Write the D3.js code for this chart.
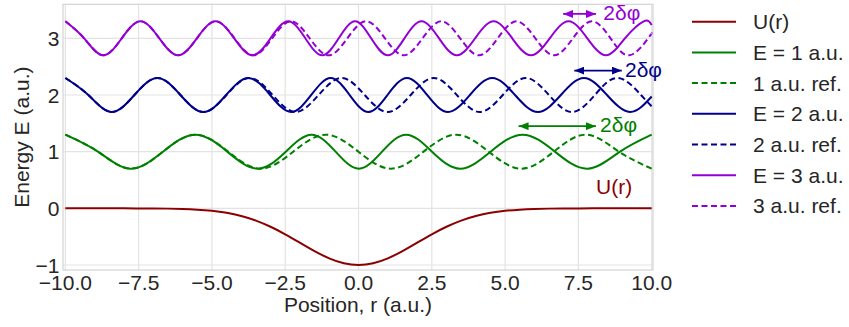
<!DOCTYPE html>
<html>
<head>
<meta charset="utf-8">
<script src="https://cdn.jsdelivr.net/npm/d3@7"></script>
<style>
  body { margin: 0; background: #fff; }
  svg { font-family: "Liberation Sans", Arial, sans-serif; }
</style>
</head>
<body>
<div id="chart"></div>
<script>
// potential well U(r), sampled every 0.5 a.u.
const potR = [-10, -9.5, -9, -8.5, -8, -7.5, -7, -6.5, -6, -5.5, -5, -4.5, -4, -3.5, -3, -2.5, -2, -1.5, -1, -0.5,
              0, 0.5, 1, 1.5, 2, 2.5, 3, 3.5, 4, 4.5, 5, 5.5, 6, 6.5, 7, 7.5, 8, 8.5, 9, 9.5, 10];
const potU = [0, 0, 0, -0.0001, -0.0003, -0.0009, -0.0022, -0.0051, -0.0111, -0.0228, -0.0439, -0.0796, -0.1353,
              -0.2163, -0.3247, -0.4578, -0.6065, -0.7548, -0.8825, -0.9692, -1, -0.9692, -0.8825, -0.7548, -0.6065,
              -0.4578, -0.3247, -0.2163, -0.1353, -0.0796, -0.0439, -0.0228, -0.0111, -0.0051, -0.0022, -0.0009,
              -0.0003, -0.0001, 0, 0, 0];

// E = 1 : wave (peaks, crossings, troughs) and free reference
const e1R = [-10, -8.889, -7.779, -6.669, -5.564, -4.477, -3.442, -2.481, -1.602, -0.781, 0.011, 0.803, 1.625,
             2.507, 3.469, 4.508, 5.595, 6.700, 7.810, 8.920, 10];
const e1V = [1.3, 1.0, 0.7, 1.0, 1.3, 1.0, 0.7, 1.0, 1.3, 1.0, 0.7, 1.0, 1.3, 1.0, 0.7, 1.0, 1.3, 1.0, 0.7, 1.0, 1.3];
const e1RefR = [-10, -8.889, -7.779, -6.668, -5.557, -4.446, -3.336, -2.225, -1.114, -0.004, 1.107, 2.218, 3.329,
                4.439, 5.550, 6.661, 7.771, 8.882, 10];
const e1RefV = [1.3, 1.0, 0.7, 1.0, 1.3, 1.0, 0.7, 1.0, 1.3, 1.0, 0.7, 1.0, 1.3, 1.0, 0.7, 1.0, 1.3, 1.0, 0.7];

// E = 2
const e2R = [-10, -9.215, -8.429, -7.644, -6.858, -6.075, -5.293, -4.517, -3.756, -3.014, -2.299, -1.612, -0.950,
             -0.303, 0.340, 0.988, 1.652, 2.339, 3.056, 3.799, 4.562, 5.338, 6.120, 6.904, 7.689, 8.475, 9.260, 10];
const e2V = [2.3, 2.0, 1.7, 2.0, 2.3, 2.0, 1.7, 2.0, 2.3, 2.0, 1.7, 2.0, 2.3, 2.0, 1.7, 2.0, 2.3, 2.0, 1.7, 2.0,
             2.3, 2.0, 1.7, 2.0, 2.3, 2.0, 1.7, 1.973];
const e2RefR = [-10, -9.215, -8.429, -7.644, -6.858, -6.073, -5.288, -4.502, -3.717, -2.931, -2.146, -1.361, -0.575,
                0.210, 0.996, 1.781, 2.566, 3.352, 4.137, 4.923, 5.708, 6.493, 7.279, 8.064, 8.850, 9.635, 10];
const e2RefV = [2.3, 2.0, 1.7, 2.0, 2.3, 2.0, 1.7, 2.0, 2.3, 2.0, 1.7, 2.0, 2.3, 2.0, 1.7, 2.0, 2.3, 2.0, 1.7, 2.0,
                2.3, 2.0, 1.7, 2.0, 2.3, 2.0, 1.80];

// E = 3
const e3R = [-10, -9.359, -8.718, -8.076, -7.435, -6.794, -6.153, -5.514, -4.876, -4.243, -3.617, -3.002, -2.400,
             -1.812, -1.239, -0.675, -0.118, 0.431, 0.999, 1.568, 2.149, 2.747, 3.355, 3.977, 4.608, 5.243, 5.882,
             6.523, 7.164, 7.805, 8.446, 9.087, 9.729, 10];
const e3V = [3.3, 3.0, 2.7, 3.0, 3.3, 3.0, 2.7, 3.0, 3.3, 3.0, 2.7, 3.0, 3.3, 3.0, 2.7, 3.0, 3.3, 3.0, 2.7, 3.0,
             3.3, 3.0, 2.7, 3.0, 3.3, 3.0, 2.7, 3.0, 3.3, 3.0, 2.7, 3.0, 3.3, 3.236];
const e3RefR = [-10, -9.359, -8.717, -8.076, -7.435, -6.794, -6.152, -5.511, -4.870, -4.229, -3.587, -2.946, -2.305,
                -1.664, -1.022, -0.381, 0.260, 0.902, 1.543, 2.184, 2.825, 3.467, 4.108, 4.749, 5.390, 6.032, 6.673,
                7.314, 7.956, 8.597, 9.238, 9.879, 10];
const e3RefV = [3.3, 3.0, 2.7, 3.0, 3.3, 3.0, 2.7, 3.0, 3.3, 3.0, 2.7, 3.0, 3.3, 3.0, 2.7, 3.0, 3.3, 3.0, 2.7, 3.0,
                3.3, 3.0, 2.7, 3.0, 3.3, 3.0, 2.7, 3.0, 3.3, 3.0, 2.7, 3.0, 3.087];

// 2δφ arrows (green, blue, purple)
const arrowX0 = [5.46, 7.36, 6.98];
const arrowX1 = [8.10, 8.98, 8.10];
const arrowY = [1.45, 2.43, 3.43];
const arrowTextX = [8.24, 9.09, 8.35];

const xTicks = [-10, -7.5, -5, -2.5, 0, 2.5, 5, 7.5, 10];
const yTicks = [-1, 0, 1, 2, 3];

const colors = {u: "#8b0000", e1: "#008000", e2: "#00008b", e3: "#9400d3"};

const series = [
  {label: "U(r)", r: potR, v: potU, color: colors.u, dash: null},
  {label: "E = 1 a.u.", r: e1R, v: e1V, color: colors.e1, dash: null},
  {label: "1 a.u. ref.", r: e1RefR, v: e1RefV, color: colors.e1, dash: "6,3.5"},
  {label: "E = 2 a.u.", r: e2R, v: e2V, color: colors.e2, dash: null},
  {label: "2 a.u. ref.", r: e2RefR, v: e2RefV, color: colors.e2, dash: "6,3.5"},
  {label: "E = 3 a.u.", r: e3R, v: e3V, color: colors.e3, dash: null},
  {label: "3 a.u. ref.", r: e3RefR, v: e3RefV, color: colors.e3, dash: "6,3.5"}
];

const width = 849, height = 327;
const plot = {left: 63, right: 653, top: 4.3, bottom: 270};
const fontSize = 21;

const x = d3.scaleLinear().domain([-10.08, 10.045]).range([plot.left, plot.right]);
const y = d3.scaleLinear().domain([-1.088, 3.6]).range([plot.bottom, plot.top]);

const svg = d3.select("#chart")
  .append("svg")
    .attr("width", width)
    .attr("height", height);

svg.append("defs")
  .append("clipPath")
    .attr("id", "clip")
  .append("rect")
    .attr("x", plot.left)
    .attr("y", plot.top)
    .attr("width", plot.right - plot.left)
    .attr("height", plot.bottom - plot.top);

// grid
svg.append("g")
  .selectAll("line")
  .data(xTicks)
  .join("line")
    .attr("x1", d => x(d)).attr("x2", d => x(d))
    .attr("y1", plot.top).attr("y2", plot.bottom)
    .attr("stroke", "#e3e3e3")
    .attr("stroke-width", 1.2);

svg.append("g")
  .selectAll("line")
  .data(yTicks)
  .join("line")
    .attr("x1", plot.left).attr("x2", plot.right)
    .attr("y1", d => y(d)).attr("y2", d => y(d))
    .attr("stroke", "#e3e3e3")
    .attr("stroke-width", 1.2);

svg.append("rect")
  .attr("x", plot.left)
  .attr("y", plot.top)
  .attr("width", plot.right - plot.left)
  .attr("height", plot.bottom - plot.top)
  .attr("fill", "none")
  .attr("stroke", "#d4d4d4")
  .attr("stroke-width", 1.2);

// tick labels
const fmtX = d => d3.format(".1f")(d).replace("-", "\u2212");
svg.append("g")
  .selectAll("text")
  .data(xTicks)
  .join("text")
    .attr("x", d => x(d))
    .attr("y", 289.5)
    .attr("text-anchor", "middle")
    .attr("font-size", fontSize)
    .attr("fill", "#262626")
    .text(fmtX);

svg.append("g")
  .selectAll("text")
  .data(yTicks)
  .join("text")
    .attr("x", 59.5)
    .attr("y", d => y(d))
    .attr("dy", "0.36em")
    .attr("text-anchor", "end")
    .attr("font-size", fontSize)
    .attr("fill", "#262626")
    .text(d => String(d).replace("-", "\u2212"));

// axis titles
svg.append("text")
  .attr("x", (plot.left + plot.right) / 2)
  .attr("y", 311.5)
  .attr("text-anchor", "middle")
  .attr("font-size", fontSize)
  .attr("fill", "#262626")
  .text("Position, r (a.u.)");

svg.append("text")
  .attr("transform", `translate(29,${(plot.top + plot.bottom) / 2}) rotate(-90)`)
  .attr("text-anchor", "middle")
  .attr("font-size", fontSize)
  .attr("fill", "#262626")
  .text("Energy E (a.u.)");

// curves
const lineGen = d3.line()
  .x(d => x(d[0]))
  .y(d => y(d[1]))
  .curve(d3.curveNatural);

svg.append("g")
  .attr("clip-path", "url(#clip)")
  .selectAll("path")
  .data(series)
  .join("path")
    .attr("d", s => lineGen(d3.zip(s.r, s.v)))
    .attr("fill", "none")
    .attr("stroke", s => s.color)
    .attr("stroke-width", 2)
    .attr("stroke-dasharray", s => s.dash);

// U(r) label
svg.append("text")
  .attr("x", 596)
  .attr("y", 194)
  .attr("font-size", fontSize)
  .attr("fill", colors.u)
  .text("U(r)");

// 2δφ arrows
const arrowColors = [colors.e1, colors.e2, colors.e3];
const defs = svg.select("defs");
arrowColors.forEach((c, i) => {
  defs.append("marker")
    .attr("id", "head" + i)
    .attr("viewBox", "0 0 10 8")
    .attr("refX", 10)
    .attr("refY", 4)
    .attr("markerWidth", 10)
    .attr("markerHeight", 8)
    .attr("markerUnits", "userSpaceOnUse")
    .attr("orient", "auto-start-reverse")
  .append("path")
    .attr("d", "M0,0 L10,4 L0,8 z")
    .attr("fill", c);
});

const arrows = svg.append("g")
  .selectAll("g")
  .data(arrowColors)
  .join("g");

arrows.append("line")
  .attr("x1", (d, i) => x(arrowX0[i]))
  .attr("x2", (d, i) => x(arrowX1[i]))
  .attr("y1", (d, i) => y(arrowY[i]))
  .attr("y2", (d, i) => y(arrowY[i]))
  .attr("stroke", d => d)
  .attr("stroke-width", 1.8)
  .attr("marker-start", (d, i) => `url(#head${i})`)
  .attr("marker-end", (d, i) => `url(#head${i})`);

arrows.append("text")
  .attr("x", (d, i) => x(arrowTextX[i]))
  .attr("y", (d, i) => y(arrowY[i]))
  .attr("dy", "0.3em")
  .attr("font-size", fontSize)
  .attr("fill", d => d)
  .text("2δφ");

// legend
const legend = svg.append("g")
  .selectAll("g")
  .data(series)
  .join("g")
    .attr("transform", (d, i) => `translate(692,${21.7 + i * 30.7})`);

legend.append("line")
  .attr("x1", 0).attr("x2", 44)
  .attr("stroke", d => d.color)
  .attr("stroke-width", 2)
  .attr("stroke-dasharray", d => d.dash);

legend.append("text")
  .attr("x", 61)
  .attr("dy", "0.36em")
  .attr("font-size", fontSize)
  .attr("fill", "#262626")
  .text(d => d.label);
</script>
</body>
</html>
